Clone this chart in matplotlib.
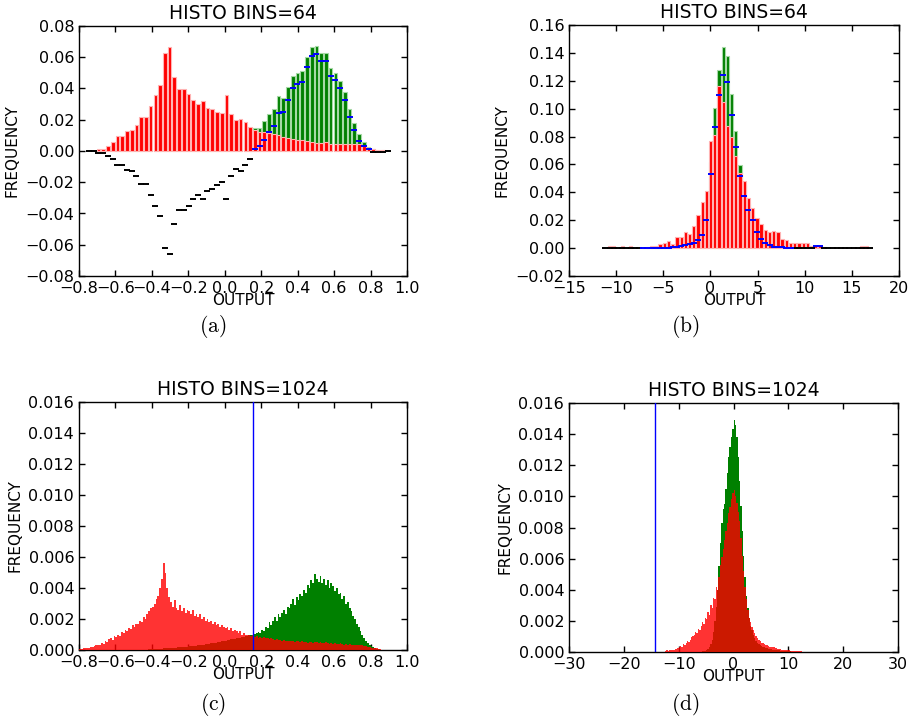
import numpy as np
import matplotlib
matplotlib.use("Agg")
import matplotlib.pyplot as plt
from matplotlib.ticker import FuncFormatter

plt.rcParams["mathtext.fontset"] = "cm"

# ---------------- data (frequencies in units of 1e-3) ----------------
# panel (a): 64-bin histograms
a_range = (-0.758, 0.906)
a_red = [0, 0, 1.3, 1.3, 3.2, 5.7, 9.6, 9.6, 13.0, 13.4,
         16.4, 21.5, 21.5, 29.0, 35.7, 42.0, 62.8, 66.4, 47.4, 39.4,
         39.4, 36.4, 32.6, 29.8, 32.1, 27.7, 27.0, 24.7, 24.5, 35.7,
         23.4, 19.6, 20.6, 18.3, 15.3, 13.5, 12.1, 12.1, 11.3, 10.9,
         10.5, 9.2, 8.3, 7.4, 7.2, 6.8, 6.3, 5.7, 5.2, 5.2,
         5.7, 4.7, 4.7, 4.7, 4.8, 4.7, 4.8, 4.4, 3.0, 1.8,
         1.4, 0.8, 0.5, 0]
a_green = [0, 0, 0, 0, 0.3, 0.3, 0.5, 0.5, 0.8, 0.8,
           0.6, 0.5, 0.5, 0.8, 0.7, 0.5, 0.8, 0.4, 1.0, 1.4,
           1.4, 1.4, 1.6, 1.8, 1.7, 2.4, 3.0, 3.2, 4.5, 5.0,
           7.7, 8.3, 8.0, 9.5, 10.0, 15.0, 15.0, 19.0, 23.4, 27.0,
           35.0, 34.0, 41.0, 48.0, 50.0, 51.0, 60.0, 66.6, 67.4, 62.8,
           63.0, 53.0, 50.0, 44.9, 37.7, 26.6, 18.0, 11.0, 6.0, 2.8,
           1.0, 0.3, 0, 0]

# panel (b): 64-bin histograms + marker series
b_range = (-11.36, 17.2)
b_red = [0, 1.2, 1.2, 0, 1.2, 0, 1.2, 0, 0, 0,
         1.0, 1.2, 1.7, 2.6, 3.6, 5.0, 2.6, 7.9, 7.9, 11.2,
         10.3, 15.6, 24.0, 33.0, 40.7, 76.6, 81.0, 116.6, 104.6, 87.8,
         80.0, 65.8, 53.9, 48.0, 36.0, 28.7, 21.5, 17.0, 13.0, 11.5,
         12.4, 11.5, 6.5, 6.0, 4.0, 4.0, 4.0, 4.0, 3.6, 1.7,
         1.7, 1.2, 0.7, 0, 0, 0, 0, 0, 0, 0,
         0, 1.2, 1.2, 0]
b_green = [0, 0, 0, 0, 0, 0, 0, 0, 0, 0.2,
           0.2, 0.2, 0.3, 0.3, 0.3, 0.5, 0.6, 1.0, 1.4, 2.8,
           3.5, 4.6, 6.4, 11.0, 23.5, 61.4, 100.5, 127.6, 144.3, 137.6,
           110.8, 83.8, 59.8, 45.5, 31.8, 23.5, 14.0, 8.0, 4.5, 2.5,
           1.0, 0.8, 0.7, 0.5, 0.4, 0, 0, 0, 0, 0,
           1.4, 1.4, 0, 0, 0, 0, 0, 0, 0, 0,
           0, 0, 0, 0]
b_marker = [0, 0, 0, 0, 0, 0, 0, 0, 0, 0.2,
            0.2, 0.2, 0.3, 0.3, 0.3, 0.4, 0.5, 0.8, 1.2, 2.4,
            3.0, 4.0, 5.5, 9.6, 20.3, 53.1, 87.0, 110.0, 124.5, 119.0,
            95.7, 72.5, 51.5, 37.1, 27.5, 19.9, 11.7, 6.5, 3.6, 1.9,
            0.7, 0.7, 0.6, 0.4, 0.3, 0, 0, 0, 0, 0,
            1.2, 1.2, 0, 0, 0, 0, 0, 0, 0, 0,
            0, 0, 0, 0]

# panel (c): fine histogram (read at 0.01 resolution)
c_range = (-0.80, 0.87)
c_red = [0.05, 0.08, 0.10, 0.12, 0.10, 0.15, 0.20, 0.18, 0.25, 0.30,
         0.30, 0.35, 0.45, 0.40, 0.55, 0.50, 0.70, 0.80, 0.65, 0.90,
         0.85, 1.00, 0.90, 1.15, 1.10, 1.30, 1.20, 1.45, 1.35, 1.60,
         1.50, 1.70, 1.65, 1.90, 1.80, 2.10, 2.00, 2.30, 2.50, 2.70,
         2.80, 3.00, 3.30, 3.50, 4.00, 4.60, 5.60, 5.00, 4.00, 3.40,
         3.10, 2.80, 3.20, 2.70, 2.60, 2.90, 2.50, 2.70, 2.40, 2.60,
         2.50, 2.30, 2.60, 2.20, 2.30, 2.10, 2.30, 2.00, 2.10, 1.90,
         2.00, 1.80, 1.90, 1.70, 1.80, 1.60, 1.70, 1.50, 1.60, 1.50,
         1.40, 1.50, 1.30, 1.40, 1.20, 1.30, 1.20, 1.10, 1.20, 1.00,
         1.10, 1.00, 0.95, 1.00, 0.90, 0.95, 0.85, 0.90, 0.80, 0.85,
         0.80, 0.85, 0.75, 0.80, 0.70, 0.75, 0.70, 0.65, 0.70, 0.65,
         0.65, 0.60, 0.65, 0.60, 0.55, 0.60, 0.55, 0.60, 0.50, 0.55,
         0.55, 0.50, 0.55, 0.50, 0.50, 0.45, 0.50, 0.50, 0.45, 0.50,
         0.50, 0.45, 0.50, 0.45, 0.45, 0.50, 0.45, 0.40, 0.45, 0.40,
         0.45, 0.40, 0.40, 0.45, 0.40, 0.35, 0.40, 0.35, 0.40, 0.35,
         0.35, 0.35, 0.30, 0.35, 0.30, 0.30, 0.25, 0.25, 0.20, 0.20,
         0.15, 0.15, 0.12, 0.10, 0.08, 0.05, 0.03]
c_green = [0] * 30 + [
           0, 0, 0, 0, 0, 0.02, 0.03, 0.03, 0.04, 0.05,
           0.05, 0.06, 0.06, 0.07, 0.08, 0.08, 0.10, 0.10, 0.12, 0.12,
           0.13, 0.14, 0.15, 0.16, 0.17, 0.18, 0.19, 0.20, 0.21, 0.22,
           0.23, 0.25, 0.26, 0.28, 0.29, 0.30, 0.32, 0.33, 0.35, 0.37,
           0.38, 0.40, 0.42, 0.44, 0.45, 0.47, 0.50, 0.52, 0.55, 0.57,
           0.60, 0.62, 0.65, 0.68, 0.70, 0.72, 0.75, 0.78, 0.80, 0.82,
           0.85, 0.90, 0.88, 0.95, 1.00, 1.00, 1.05, 1.10, 1.15, 1.10,
           1.30, 1.20, 1.50, 1.40, 1.80, 1.60, 1.90, 2.10, 1.90, 2.30,
           2.10, 2.40, 2.60, 2.30, 2.80, 2.70, 3.00, 3.30, 2.90, 3.40,
           3.20, 3.60, 3.50, 3.90, 3.70, 4.20, 4.00, 4.50, 4.30, 4.90,
           4.60, 4.40, 4.80, 4.30, 4.60, 4.20, 4.50, 4.00, 4.30, 4.10,
           3.80, 4.00, 3.60, 3.70, 3.30, 3.50, 3.00, 3.10, 2.70, 2.50,
           2.20, 2.00, 1.70, 1.50, 1.20, 1.00, 0.80, 0.60, 0.45, 0.35,
           0.25, 0.18, 0.12, 0.08, 0.05, 0.03, 0.01]
c_spike_x = 0.0
c_spike_h = 15.1
c_thresh = 0.156

# panel (d): fine histogram (read at 0.25 resolution)
d_range = (-12.5, 12.5)
d_red = [0.05, 0.10, 0.08, 0.12, 0.10, 0.15, 0.12, 0.20, 0.18, 0.25,
         0.30, 0.40, 0.35, 0.50, 0.45, 0.60, 0.70, 0.65, 0.80, 0.95,
         1.00, 1.10, 1.30, 1.20, 1.50, 1.40, 1.70, 1.90, 1.80, 2.20,
         2.10, 2.60, 2.40, 3.00, 2.80, 3.50, 3.40, 4.20, 4.00, 4.80,
         5.60, 6.10, 6.60, 7.20, 7.80, 8.30, 8.90, 9.30, 9.80, 10.2,
         10.4, 10.0, 9.60, 9.00, 8.40, 7.30, 6.20, 5.20, 4.20, 3.40,
         2.70, 2.20, 1.90, 1.60, 1.40, 1.20, 1.00, 0.90, 0.80, 0.70,
         0.60, 0.55, 0.50, 0.45, 0.45, 0.40, 0.35, 0.35, 0.30, 0.30,
         0.25, 0.25, 0.20, 0.20, 0.18, 0.15, 0.15, 0.12, 0.12, 0.10,
         0.10, 0.08, 0.08, 0.07, 0.06, 0.06, 0.05, 0.05, 0.04, 0.04]
d_green = [0] * 25 + [
           0.02, 0.03, 0.05, 0.06, 0.08,
           0.10, 0.20, 0.30, 0.50, 0.80, 1.30, 2.00, 2.90, 4.00, 5.50,
           7.00, 8.30, 9.20, 9.50, 10.5, 11.5, 12.5, 13.2, 13.8, 14.3,
           14.9, 14.6, 13.8, 12.5, 11.0, 9.40, 7.80, 6.20, 4.80, 3.60,
           2.80, 2.20, 1.70, 1.40, 1.10, 0.90, 0.70, 0.60, 0.50, 0.45,
           0.40, 0.35, 0.30, 0.28, 0.25, 0.22, 0.20, 0.18, 0.16, 0.15,
           0.14, 0.12, 0.10, 0.10, 0.08, 0.08, 0.07, 0.06, 0.05, 0.05,
           0.04, 0.04, 0.03, 0.03, 0.03, 0.02, 0.02, 0.02, 0.02, 0.01]
d_thresh = -14.3

titles = ["HISTO BINS=64", "HISTO BINS=64", "HISTO BINS=1024", "HISTO BINS=1024"]
captions = ["(a)", "(b)", "(c)", "(d)"]

# ---------------- helpers ----------------
SCALE = 1e-3


def grid(rng, n):
    edges = np.linspace(rng[0], rng[1], n + 1)
    return edges, 0.5 * (edges[:-1] + edges[1:]), edges[1] - edges[0]


def coarse_panel(ax, rng, red, green, marker):
    red = np.asarray(red) * SCALE
    green = np.asarray(green) * SCALE
    marker = np.asarray(marker) * SCALE
    edges, cen, w = grid(rng, len(red))
    gm = green > 0
    ax.bar(cen[gm], green[gm], width=w * 0.78, color="green",
           edgecolor=(0.65, 0.85, 0.65), linewidth=0.8, zorder=2)
    rm = red > 0
    ax.bar(cen[rm], red[rm], width=w * 0.78, color="red",
           edgecolor=(1.0, 0.7, 0.7), linewidth=0.8, zorder=3)
    pos = marker > 0
    ax.plot(cen[~pos], marker[~pos], ls="none", marker="_", ms=4.2,
            mew=1.4, color="black", zorder=4)
    ax.plot(cen[pos], marker[pos], ls="none", marker="_", ms=4.2,
            mew=1.4, color="blue", zorder=5)


def fine_panel(ax, rng, red, green):
    red = np.asarray(red) * SCALE
    green = np.asarray(green) * SCALE
    edges, cen, w = grid(rng, len(red))
    ax.stairs(green, edges, fill=True, color="green", lw=0, zorder=2)
    ax.stairs(red, edges, fill=True, color="red", alpha=0.8, lw=0, zorder=3)


def fmt(spec):
    def f(v, pos):
        s = spec % v
        if float(s) == 0:
            s = spec % 0.0
        return s.replace("-", "\u2212")
    return FuncFormatter(f)


def style(ax, xlim, xticks, xfmt, ylim, yticks, yfmt, title):
    ax.set_xlim(*xlim)
    ax.set_ylim(*ylim)
    ax.set_xticks(xticks)
    ax.set_yticks(yticks)
    ax.xaxis.set_major_formatter(fmt(xfmt))
    ax.yaxis.set_major_formatter(fmt(yfmt))
    ax.tick_params(direction="in", top=True, right=True, length=4,
                   width=1, labelsize=11.5)
    ax.set_title(title, fontsize=13.5, pad=5)
    ax.set_xlabel("OUTPUT", fontsize=11, labelpad=-2)
    ax.set_ylabel("FREQUENCY", fontsize=11)
    for s in ax.spines.values():
        s.set_linewidth(1.0)


# ---------------- figure ----------------
fig = plt.figure(figsize=(9.13, 7.22), dpi=100)
H, W = 722.0, 913.0
ax_a = fig.add_axes([79 / W, (H - 276) / H, 328 / W, 250 / H])
ax_b = fig.add_axes([569 / W, (H - 276) / H, 330 / W, 251 / H])
ax_c = fig.add_axes([79 / W, (H - 650) / H, 328 / W, 248 / H])
ax_d = fig.add_axes([569 / W, (H - 652) / H, 329 / W, 249 / H])

# (a) difference markers: green minus red per bin
a_diff = np.asarray(a_green) - np.asarray(a_red)
coarse_panel(ax_a, a_range, a_red, a_green, a_diff)
style(ax_a, (-0.8, 1.0), np.arange(-0.8, 1.01, 0.2), "%.1f",
      (-0.08, 0.08), np.arange(-0.08, 0.081, 0.02), "%.2f", titles[0])

coarse_panel(ax_b, b_range, b_red, b_green, b_marker)
style(ax_b, (-15, 20), np.arange(-15, 21, 5), "%d",
      (-0.02, 0.16), np.arange(-0.02, 0.161, 0.02), "%.2f", titles[1])

fine_panel(ax_c, c_range, c_red, c_green)
ax_c.bar([c_spike_x], [c_spike_h * SCALE], width=(c_range[1] - c_range[0]) / 1024,
         color="red", alpha=0.35, lw=0, zorder=3)
ax_c.axvline(c_thresh, color="blue", lw=1, zorder=6)
style(ax_c, (-0.8, 1.0), np.arange(-0.8, 1.01, 0.2), "%.1f",
      (0, 0.016), np.arange(0, 0.0161, 0.002), "%.3f", titles[2])

fine_panel(ax_d, d_range, d_red, d_green)
ax_d.axvline(d_thresh, color="blue", lw=1, zorder=6)
style(ax_d, (-30, 30), np.arange(-30, 31, 10), "%d",
      (0, 0.016), np.arange(0, 0.0161, 0.002), "%.3f", titles[3])

for (px, py), cap in zip([(213, 327), (685, 327), (213, 705), (685, 705)], captions):
    fig.text(px / W, 1 - py / H, r"$\mathrm{" + cap + "}$", ha="center",
             va="center", fontsize=15.5)

fig.savefig("out.png", dpi=100)
